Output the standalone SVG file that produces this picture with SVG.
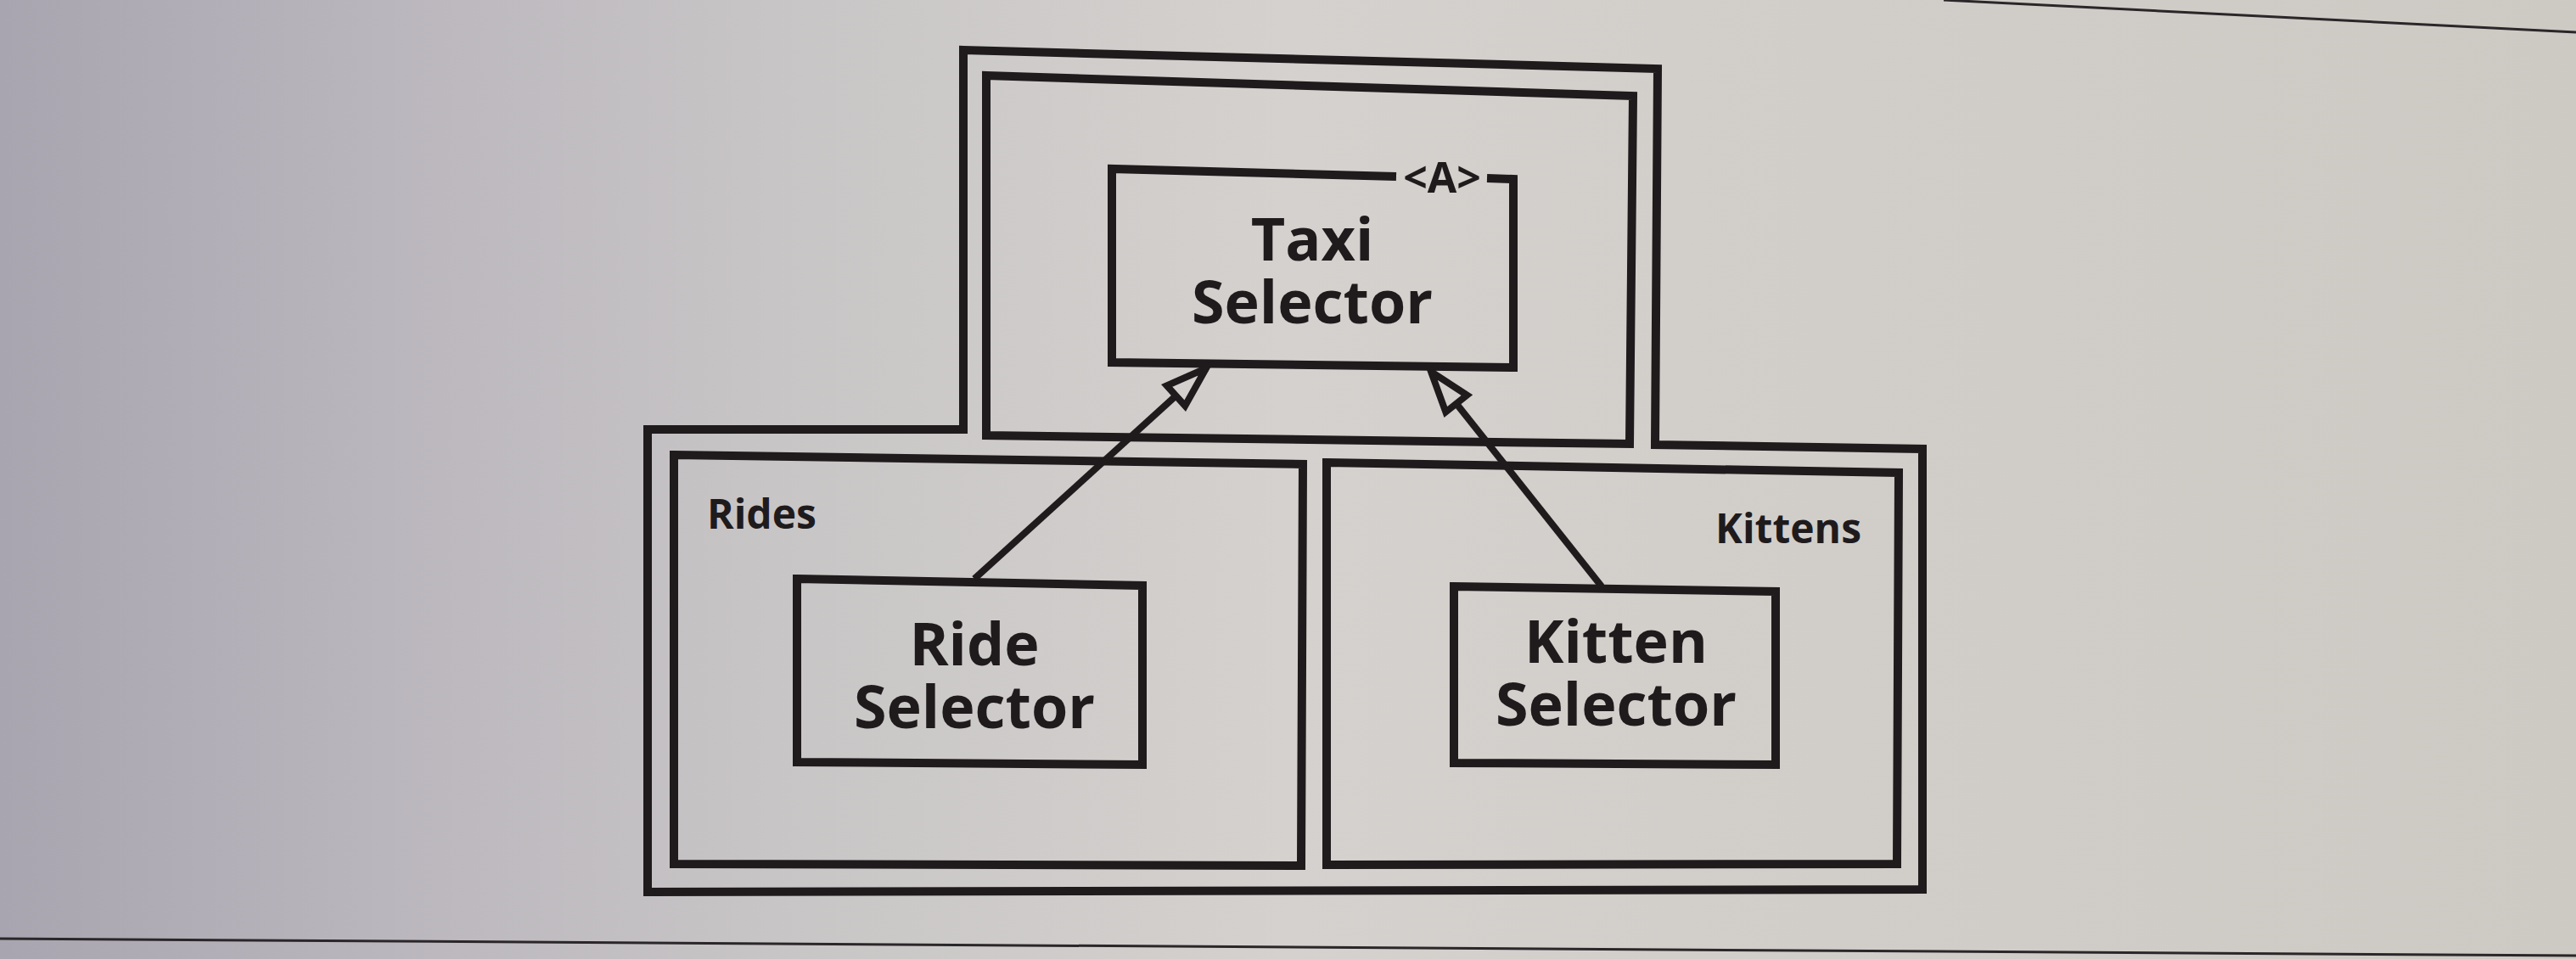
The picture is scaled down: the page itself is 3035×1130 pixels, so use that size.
<svg xmlns="http://www.w3.org/2000/svg" width="3035" height="1130" viewBox="0 0 3035 1130">
  <defs>
    <linearGradient id="paper" x1="0" y1="0" x2="1" y2="0">
      <stop offset="0" stop-color="#a9a5b0"/>
      <stop offset="0.15" stop-color="#bab6bd"/>
      <stop offset="0.3" stop-color="#c8c5c6"/>
      <stop offset="0.5" stop-color="#d4d1ce"/>
      <stop offset="1" stop-color="#cdcac4"/>
    </linearGradient>
    <marker id="hollow" markerUnits="userSpaceOnUse" markerWidth="70" markerHeight="50" refX="0" refY="0" viewBox="-60 -25 70 50" orient="auto" overflow="visible">
      <path d="M0,0 L-48,-16 L-48,16 Z" fill="#d3d0cd" stroke="#1f1b1d" stroke-width="8" stroke-linejoin="miter"/>
    </marker>
    <style>
      .box { fill: none; stroke: #1f1b1d; stroke-width: 10; stroke-linejoin: miter; }
      .edge { fill: none; stroke: #1f1b1d; stroke-width: 8; }
      .page { fill: none; stroke: #2a2629; stroke-width: 3; }
      .name { font-family: "Open Sans", "Noto Sans", "Liberation Sans", sans-serif; font-weight: 700; font-size: 70px; fill: #1f1b1d; text-anchor: middle; }
      .label { font-family: "Open Sans", "Noto Sans", "Liberation Sans", sans-serif; font-weight: 700; font-size: 48px; fill: #1f1b1d; }
      .stereo { font-family: "Open Sans", "Noto Sans", "Liberation Sans", sans-serif; font-weight: 700; font-size: 50px; fill: #1f1b1d; text-anchor: middle; }
    </style>
  </defs>

  <rect x="0" y="0" width="3035" height="1130" fill="url(#paper)"/>
  <g id="page-edges">
    <line class="page" x1="2290" y1="0" x2="3035" y2="38"/>
    <line class="page" x1="0" y1="1106" x2="3035" y2="1126"/>
  </g>

  <g id="outer-boundary">
    <path class="box" d="M1135,59 L1953,81 L1950,524 L2265,529 L2265,1048 L763,1051 L763,506 L1135,506 Z"/>
  </g>

  <g id="taxi-container">
    <path class="box" d="M1162,89 L1924,113 L1920,523 L1162,513 Z"/>
  </g>

  <g id="rides-container">
    <path class="box" d="M794,536 L1535,547 L1533,1020 L794,1018 Z"/>
    <text class="label" x="833" y="623">Rides</text>
  </g>

  <g id="kittens-container">
    <path class="box" d="M1563,545 L2237,557 L2235,1018 L1563,1019 Z"/>
    <text class="label" x="2193" y="640" text-anchor="end">Kittens</text>
  </g>

  <g id="taxi-selector">
    <path class="box" d="M1645,208 L1310,199 L1310,427 L1783,433 L1783,211 L1752,210"/>
    <text class="stereo" x="1699" y="227">&lt;A&gt;</text>
    <text class="name"><tspan x="1546" y="307">Taxi</tspan><tspan x="1546" y="381">Selector</tspan></text>
  </g>

  <g id="ride-selector">
    <path class="box" d="M939,682 L1346,690 L1346,901 L939,898 Z"/>
    <text class="name"><tspan x="1148" y="784">Ride</tspan><tspan x="1148" y="858">Selector</tspan></text>
  </g>

  <g id="kitten-selector">
    <path class="box" d="M1713,691 L2092,697 L2092,901 L1713,899 Z"/>
    <text class="name"><tspan x="1904" y="781">Kitten</tspan><tspan x="1904" y="855">Selector</tspan></text>
  </g>

  <g id="connectors">
    <line class="edge" x1="1148" y1="682" x2="1421" y2="434" marker-end="url(#hollow)"/>
    <line class="edge" x1="1887" y1="691" x2="1686" y2="438" marker-end="url(#hollow)"/>
  </g>
</svg>
